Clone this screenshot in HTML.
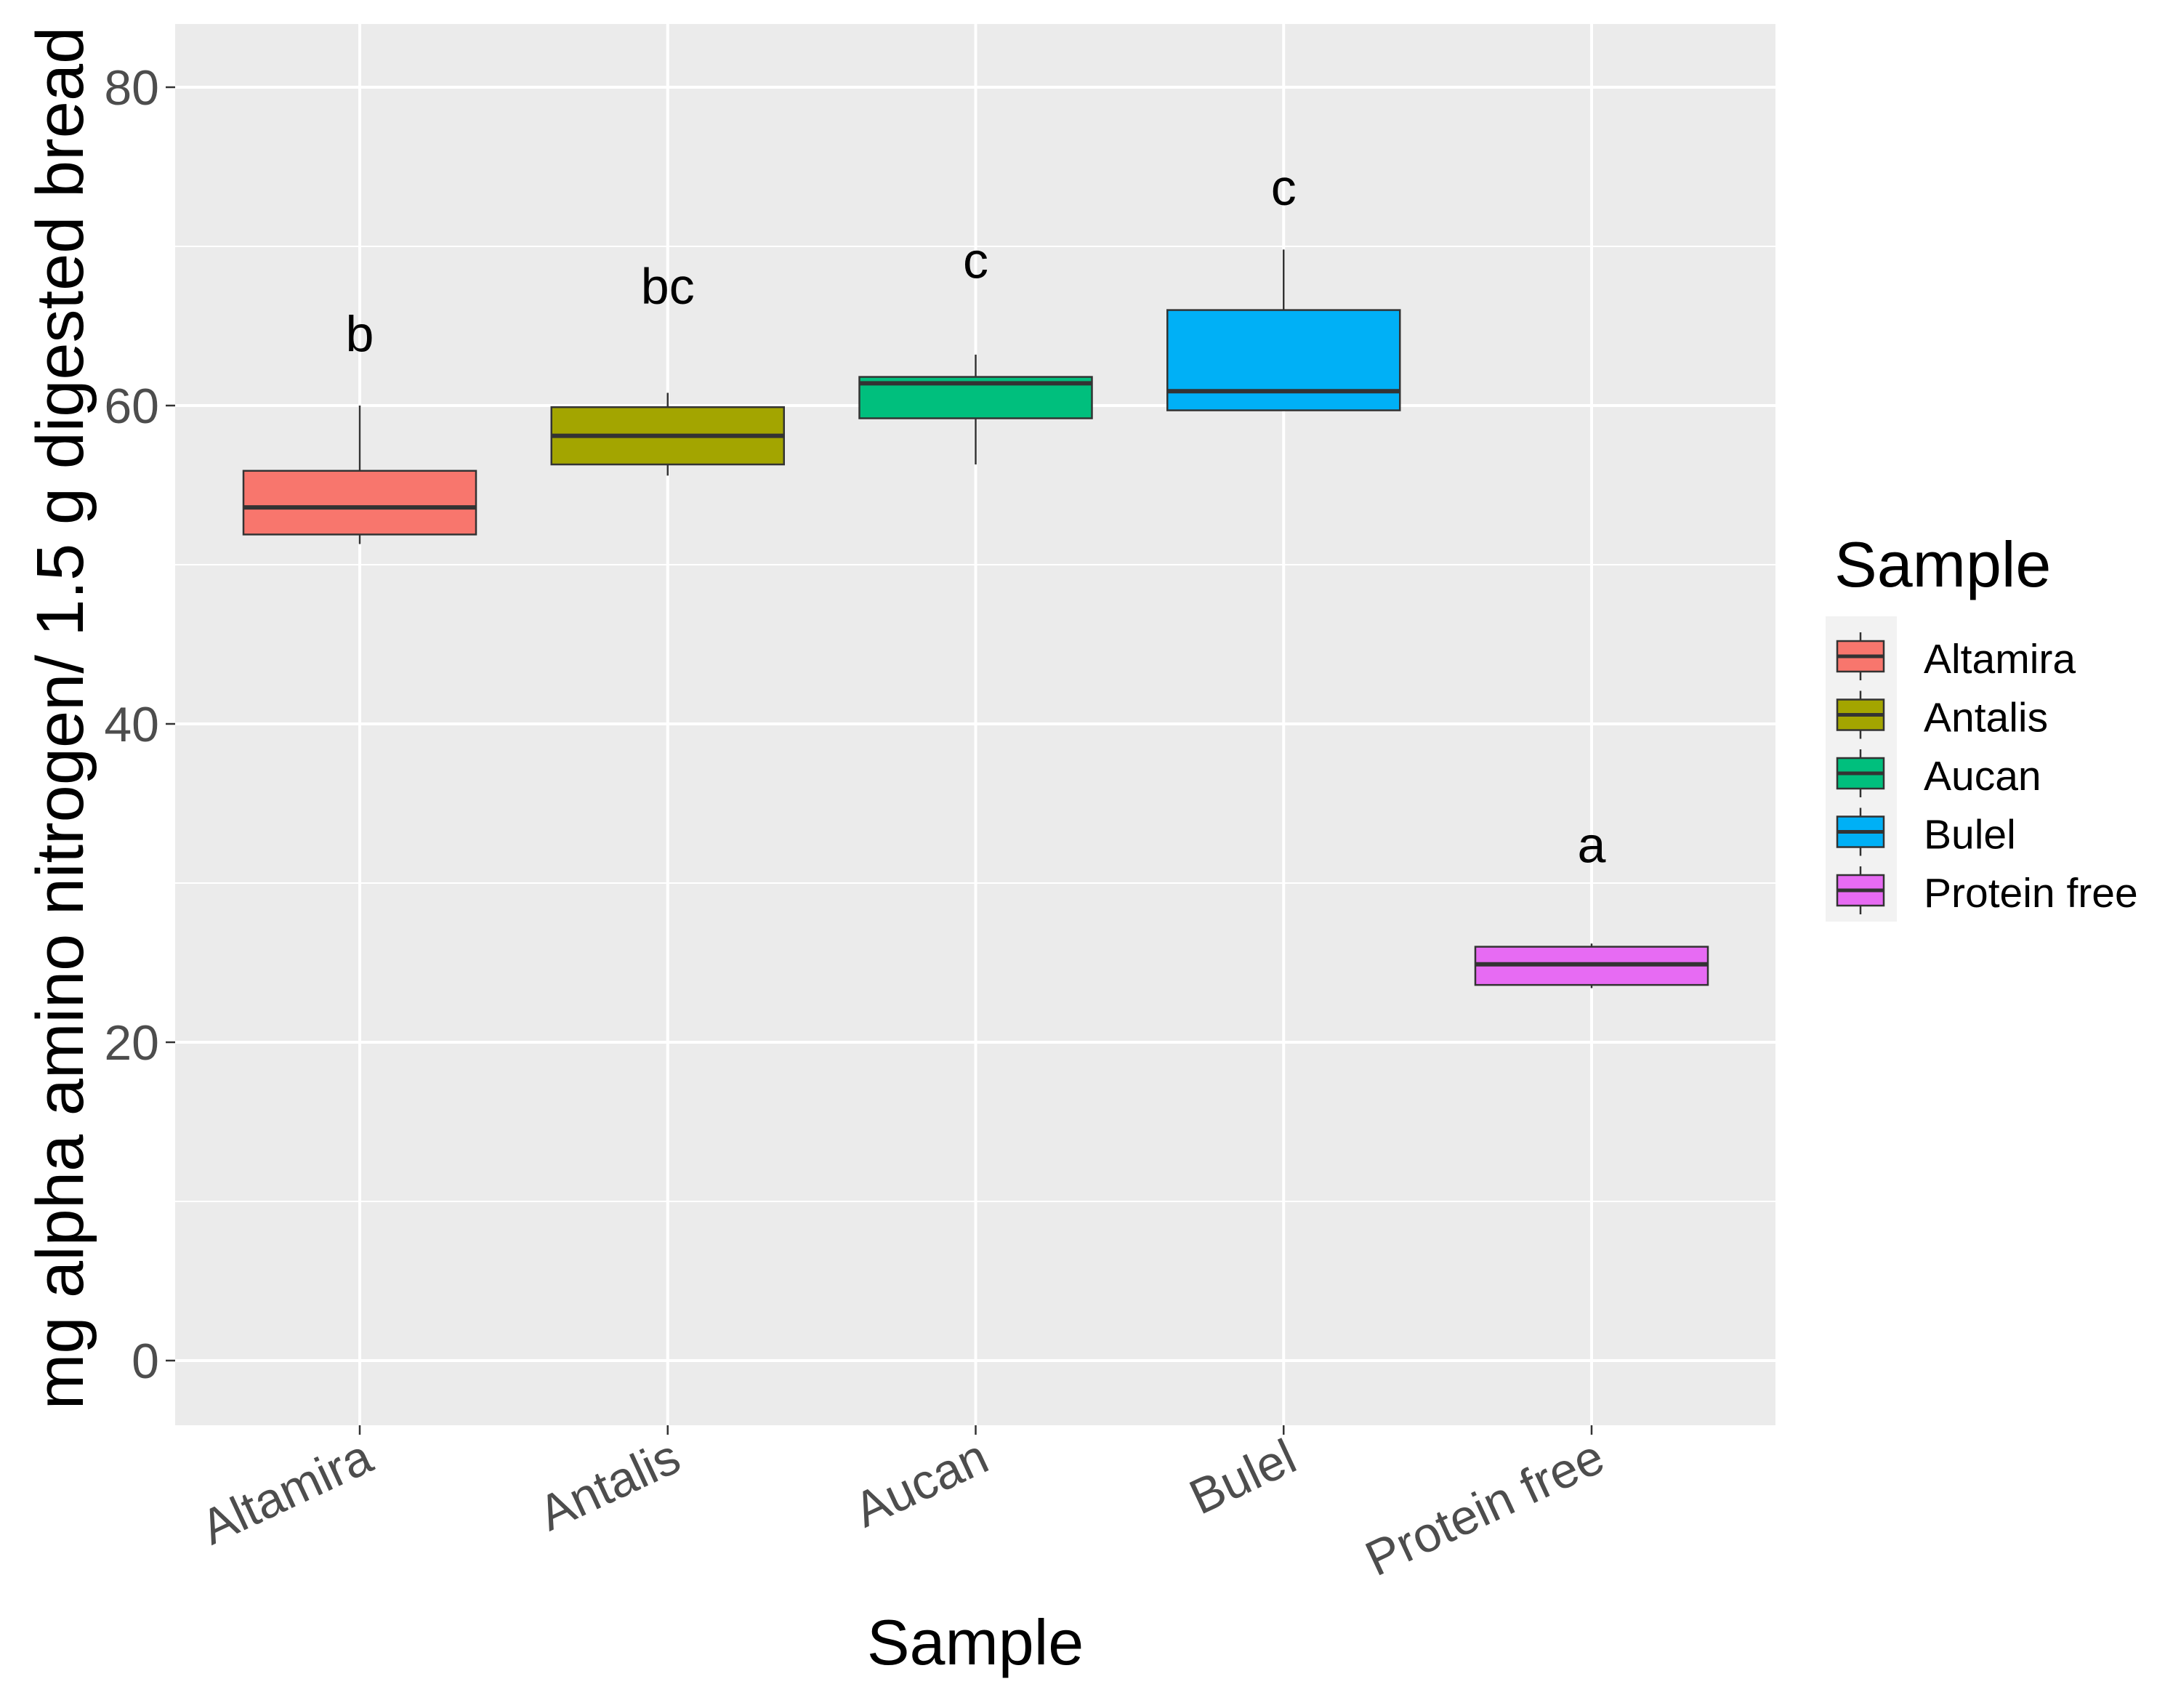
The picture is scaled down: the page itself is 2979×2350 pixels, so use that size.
<!DOCTYPE html>
<html><head><meta charset="utf-8"><style>
html,body{margin:0;padding:0;background:#fff}
svg{display:block;font-family:"Liberation Sans",Arial,sans-serif}
</style></head><body>
<svg id="chart" width="2979" height="2350" viewBox="0 0 2979 2350" xmlns="http://www.w3.org/2000/svg">
<rect x="0" y="0" width="2979" height="2350" fill="#fff"/>
<g id="panel"></g>
<g id="marks"></g>
<g id="axes"></g>
<g id="legend"></g>
</svg>
<script>
const categories = ["Altamira","Antalis","Aucan","Bulel","Protein free"];
const whiskerLow = [51.3,55.6,56.3,59.7,23.4];
const q1 = [51.9,56.3,59.2,59.7,23.6];
const medians = [53.6,58.1,61.4,60.9,24.9];
const q3 = [55.9,59.9,61.8,66.0,26.0];
const whiskerHigh = [60.0,60.8,63.2,69.8,26.2];
const letters = ["b","bc","c","c","a"];
const letterValues = [64.5,67.5,69.1,73.7,32.4];
const colors = ["#F8766D","#A3A500","#00BF7D","#00B0F6","#E76BF3"];
const yTicks = [0,20,40,60,80];
const yMinor = [10,30,50,70];

const NS="http://www.w3.org/2000/svg";
const PL=241, PR=2443, PT=33, PB=1961;
const Y0=1872, PXU=(1872-120)/80;
function y(v){return Y0 - v*PXU;}
const XS=495, XSTEP=423.75;
function x(i){return XS + i*XSTEP;}
const BW=160;
function mk(parent,tag,attrs,text){const e=document.createElementNS(NS,tag);for(const k in attrs)e.setAttribute(k,attrs[k]);if(text!==undefined)e.textContent=text;parent.appendChild(e);return e;}

const panel=document.getElementById('panel');
const bg=mk(panel,'rect',{x:PL,y:PT,width:PR-PL,height:PB-PT,fill:'#EBEBEB'});


yMinor.forEach(v=>{const l=mk(panel,'line',{x1:PL,x2:PR,y1:y(v),y2:y(v),stroke:'#fff','stroke-width':2});

});
yTicks.forEach(v=>{const l=mk(panel,'line',{x1:PL,x2:PR,y1:y(v),y2:y(v),stroke:'#fff','stroke-width':4});

});
categories.forEach((c,i)=>{const l=mk(panel,'line',{x1:x(i),x2:x(i),y1:PT,y2:PB,stroke:'#fff','stroke-width':4});

});

const marks=document.getElementById('marks');
categories.forEach((c,i)=>{
  const g=mk(marks,'g',{});
  
  
  mk(g,'line',{x1:x(i),x2:x(i),y1:y(whiskerHigh[i]),y2:y(q3[i]),stroke:'#333','stroke-width':2.5});
  mk(g,'line',{x1:x(i),x2:x(i),y1:y(q1[i]),y2:y(whiskerLow[i]),stroke:'#333','stroke-width':2.5});
  mk(g,'rect',{x:x(i)-BW,y:y(q3[i]),width:2*BW,height:y(q1[i])-y(q3[i]),fill:colors[i],stroke:'#333','stroke-width':2.5});
  mk(g,'line',{x1:x(i)-BW,x2:x(i)+BW,y1:y(medians[i]),y2:y(medians[i]),stroke:'#333','stroke-width':6});
  const t=mk(marks,'text',{x:x(i),y:y(letterValues[i])+24,'text-anchor':'middle','font-size':70,fill:'#000'},letters[i]);
  
  
});

const axes=document.getElementById('axes');
yTicks.forEach(v=>{
  mk(axes,'line',{x1:PL-13,x2:PL,y1:y(v),y2:y(v),stroke:'#333','stroke-width':2.5});
  const t=mk(axes,'text',{x:PL-22,y:y(v)+24,'text-anchor':'end','font-size':68,fill:'#4D4D4D'},String(v));
  
  
});
categories.forEach((c,i)=>{
  mk(axes,'line',{x1:x(i),x2:x(i),y1:PB,y2:PB+13,stroke:'#333','stroke-width':2.5});
  const t=mk(axes,'text',{x:x(i)+22,y:PB+60,'text-anchor':'end','font-size':68,fill:'#4D4D4D',transform:'rotate(-25 '+(x(i)+22)+' '+(PB+60)+')'},c);
  
  
});
const xt=mk(axes,'text',{x:1342,y:2290,'text-anchor':'middle','font-size':88,fill:'#000'},'Sample');


const yt=mk(axes,'text',{x:0,y:0,'text-anchor':'middle','font-size':92,fill:'#000',transform:'translate(114 988) rotate(-90)'},'mg alpha amino nitrogen/ 1.5 g digested bread');



const legend=document.getElementById('legend');
const lt=mk(legend,'text',{x:2524,y:807,'font-size':88,fill:'#000'},'Sample');


mk(legend,'rect',{x:2512,y:848,width:98,height:420,fill:'#F2F2F2'});
categories.forEach((c,i)=>{
  const g=mk(legend,'g',{});
  
  
  const top=882+i*80.5, cx=2560;
  mk(g,'line',{x1:cx,x2:cx,y1:top-12,y2:top+54,stroke:'#333','stroke-width':2.5});
  mk(g,'rect',{x:2528,y:top,width:64,height:42,fill:colors[i],stroke:'#333','stroke-width':2.5});
  mk(g,'line',{x1:2528,x2:2592,y1:top+21,y2:top+21,stroke:'#333','stroke-width':5});
  mk(g,'text',{x:2647,y:top+44,'font-size':57,fill:'#000'},c);
});
</script>
</body></html>
